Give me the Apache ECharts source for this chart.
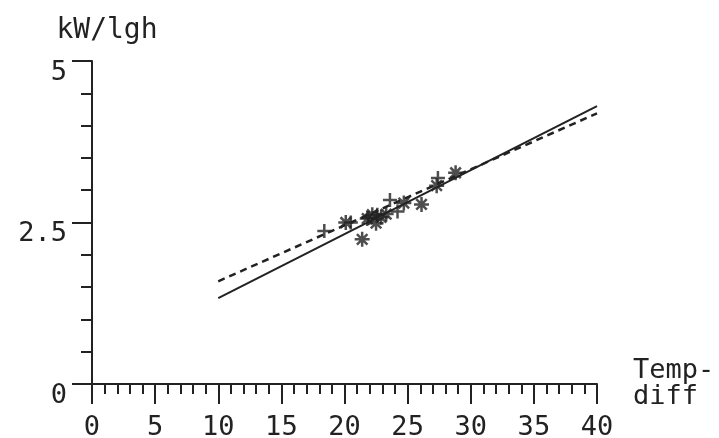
<!DOCTYPE html>
<html>
<head>
<meta charset="utf-8">
<script src="https://cdn.jsdelivr.net/npm/echarts@6/dist/echarts.min.js"></script>
<style>
html,body{margin:0;padding:0;background:#fff;}
#c{width:719px;height:438px;}
</style>
</head>
<body>
<div id="c"></div>
<script>
// ---- data ----
const plusX = [18.4, 20.5, 21.9, 22.6, 23.6, 24.2, 27.4];
const plusY = [2.37, 2.50, 2.57, 2.62, 2.85, 2.67, 3.19];
const starX = [20.1, 21.4, 21.8, 22.2, 22.5, 22.9, 23.3, 24.7, 26.1, 27.3, 28.8];
const starY = [2.50, 2.24, 2.56, 2.62, 2.49, 2.58, 2.63, 2.80, 2.78, 3.07, 3.27];
const plusFitX = [10, 40];
const plusFitY = [1.59, 4.19];
const starFitX = [10, 40];
const starFitY = [1.33, 4.30];
const xTickLabels = ['0', '5', '10', '15', '20', '25', '30', '35', '40'];
const yTickLabels = ['0', '2.5', '5'];
const xName = 'Temp-\ndiff';
const yName = 'kW/lgh';

const zip = (a, b) => a.map((v, i) => [v, b[i]]);
const ink = '#222222';
const font = 'DejaVu Sans Mono';

const plusPath = 'path://M0,5L10,5M5,0L5,10';
const starPath = 'path://M0,5L10,5M5,0L5,10M1.5,1.5L8.5,8.5M1.5,8.5L8.5,1.5';

const chart = echarts.init(document.getElementById('c'), null, {renderer: 'canvas'});
chart.setOption({
  backgroundColor: '#ffffff',
  animation: false,
  grid: {left: 92, right: 122, top: 61, bottom: 54, containLabel: false, outerBoundsMode: 'none'},
  xAxis: {
    type: 'value', min: 0, max: 40, interval: 5,
    name: xName, nameLocation: 'end', nameGap: 36,
    nameTextStyle: {color: ink, fontFamily: font, fontSize: 27, lineHeight: 26, align: 'left', verticalAlign: 'middle', padding: [4, 0, 0, 0]},
    axisLine: {show: true, lineStyle: {color: ink, width: 2}},
    axisTick: {show: true, length: 20, lineStyle: {color: ink, width: 2}},
    minorTick: {show: true, splitNumber: 5, length: 10, lineStyle: {color: ink, width: 2}},
    splitLine: {show: false}, minorSplitLine: {show: false},
    axisLabel: {
      color: ink, fontFamily: font, fontSize: 27, margin: 30,
      formatter: (v) => xTickLabels[Math.round(v / 5)]
    }
  },
  yAxis: {
    type: 'value', min: 0, max: 5, interval: 2.5,
    name: yName, nameLocation: 'end', nameGap: 16,
    nameTextStyle: {color: ink, fontFamily: font, fontSize: 28, align: 'center', padding: [0, 0, 0, 30]},
    axisLine: {show: true, lineStyle: {color: ink, width: 2}},
    axisTick: {show: true, length: 20, lineStyle: {color: ink, width: 2}},
    minorTick: {show: true, splitNumber: 5, length: 11, lineStyle: {color: ink, width: 2}},
    splitLine: {show: false}, minorSplitLine: {show: false},
    axisLabel: {
      color: ink, fontFamily: font, fontSize: 27, margin: 25, verticalAlign: 'top',
      padding: [-2, 0, 0, 0],
      formatter: (v) => yTickLabels[Math.round(v / 2.5)]
    }
  },
  series: [
    {
      type: 'line', data: zip(starFitX, starFitY), showSymbol: false, silent: true,
      lineStyle: {color: ink, width: 2}
    },
    {
      type: 'line', data: zip(plusFitX, plusFitY), showSymbol: false, silent: true,
      lineStyle: {color: ink, width: 2.5, type: [7, 5]}
    },
    {
      type: 'scatter', data: zip(plusX, plusY), symbol: plusPath, symbolSize: 14,
      itemStyle: {color: 'rgba(0,0,0,0)', borderColor: ink, borderWidth: 2.5}
    },
    {
      type: 'scatter', data: zip(starX, starY), symbol: starPath, symbolSize: 15,
      itemStyle: {color: 'rgba(0,0,0,0)', borderColor: ink, borderWidth: 2.5}
    }
  ]
});
</script>
</body>
</html>
